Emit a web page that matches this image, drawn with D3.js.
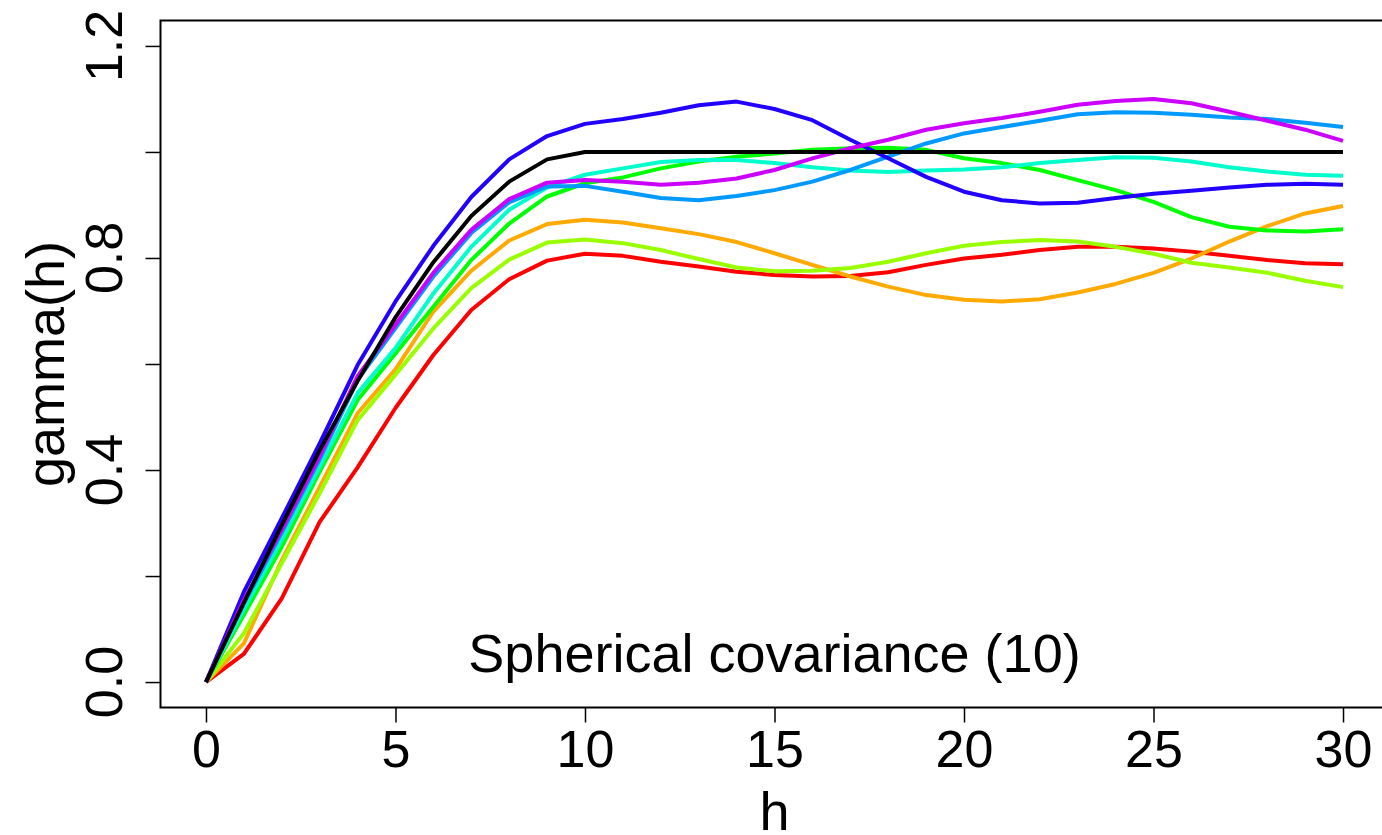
<!DOCTYPE html>
<html>
<head>
<meta charset="utf-8">
<script src="https://cdn.jsdelivr.net/npm/d3@7"></script>
<style>
  body { margin: 0; background: #fff; }
  svg text { font-family: "Liberation Sans", Arial, sans-serif; fill: #000; }
</style>
</head>
<body>
<div id="chart"></div>
<script>
// lag distances
const lags = d3.range(0, 31);

// simulated variograms
const red = [0, .053, .158, .302, .405, .517, .617, .702, .760, .795, .808, .804, .793, .784, .774, .768, .765, .766, .773, .787, .799, .806, .815, .821, .821, .818, .812, .804, .796, .790, .788];
const orange = [0, .073, .230, .368, .507, .590, .699, .776, .833, .864, .872, .867, .856, .845, .830, .809, .787, .765, .746, .730, .721, .718, .722, .735, .751, .772, .799, .831, .860, .884, .898];
const chartreuse = [0, .092, .224, .356, .494, .580, .667, .743, .797, .829, .835, .828, .815, .798, .782, .775, .776, .781, .793, .809, .823, .830, .834, .831, .821, .808, .791, .782, .772, .757, .745];
const green = [0, .127, .255, .397, .532, .620, .708, .796, .865, .916, .941, .952, .969, .982, .991, .997, 1.004, 1.007, 1.008, 1.004, .988, .979, .966, .947, .928, .906, .877, .859, .852, .850, .854];
const cyan = [0, .137, .268, .406, .545, .630, .733, .821, .891, .933, .957, .969, .981, .985, .985, .979, .971, .965, .962, .965, .967, .971, .979, .985, .990, .989, .982, .971, .963, .957, .955];
const azure = [0, .148, .282, .420, .570, .668, .765, .847, .905, .935, .936, .925, .913, .909, .917, .928, .944, .966, .991, 1.016, 1.035, 1.047, 1.059, 1.071, 1.075, 1.074, 1.070, 1.065, 1.062, 1.055, 1.047];
const blue = [0, .170, .309, .450, .598, .718, .823, .915, .986, 1.030, 1.053, 1.062, 1.074, 1.088, 1.095, 1.081, 1.060, 1.023, .988, .953, .925, .909, .903, .904, .913, .921, .927, .933, .938, .940, .938];
const purple = [0, .155, .287, .426, .577, .674, .772, .853, .911, .942, .947, .944, .938, .942, .950, .966, .988, 1.007, 1.023, 1.042, 1.054, 1.064, 1.076, 1.089, 1.096, 1.100, 1.092, 1.076, 1.059, 1.042, 1.021];
// theoretical spherical model
const model = [0, .150, .296, .437, .568, .688, .792, .879, .944, .986, 1, 1, 1, 1, 1, 1, 1, 1, 1, 1, 1, 1, 1, 1, 1, 1, 1, 1, 1, 1, 1];

const series = [
    { values: red, color: "#FF0000" },
    { values: orange, color: "#FFAA00" },
    { values: chartreuse, color: "#99FF00" },
    { values: green, color: "#00FF00" },
    { values: cyan, color: "#00FFCC" },
    { values: azure, color: "#0099FF" },
    { values: blue, color: "#2200FF" },
    { values: purple, color: "#CC00FF" },
    { values: model, color: "#000000" }
];

const xTicks = [0, 5, 10, 15, 20, 25, 30];
const yTicks = [0, 0.2, 0.4, 0.6, 0.8, 1.0, 1.2];
const yLabelTicks = [0, 0.4, 0.8, 1.2];

const width = 1382, height = 835;
const box = { left: 160.5, top: 20.5, right: 1388.5, bottom: 707.5 };

const svg = d3.select("#chart").append("svg")
    .attr("width", width)
    .attr("height", height);

// R-style 4% padding on both axes
const x = d3.scaleLinear().domain([-1.2, 31.2]).range([box.left, box.right]);
const y = d3.scaleLinear().domain([-0.048, 1.248]).range([box.bottom, box.top]);

// lines
const line = d3.line()
    .x((d, i) => x(lags[i]))
    .y(d => y(d));

svg.append("g")
    .selectAll("path")
    .data(series)
    .join("path")
    .attr("d", d => line(d.values))
    .attr("fill", "none")
    .attr("stroke", d => d.color)
    .attr("stroke-width", 4)
    .attr("stroke-linejoin", "round");

// plot frame
svg.append("rect")
    .attr("x", box.left)
    .attr("y", box.top)
    .attr("width", box.right - box.left)
    .attr("height", box.bottom - box.top)
    .attr("fill", "none")
    .attr("stroke", "#000")
    .attr("stroke-width", 2);

// x axis
const xAxis = svg.append("g")
    .attr("transform", `translate(0,${box.bottom})`)
    .call(d3.axisBottom(x).tickValues(xTicks).tickSize(15).tickPadding(8).tickFormat(d3.format("d")));
xAxis.select(".domain").remove();
xAxis.selectAll("line").attr("stroke-width", 1.5);
xAxis.selectAll("text")
    .attr("font-size", 52)
    .attr("font-family", "'Liberation Sans', Arial, sans-serif")
    .attr("dy", "0.71em");

// y axis
const yAxis = svg.append("g")
    .attr("transform", `translate(${box.left},0)`)
    .call(d3.axisLeft(y).tickValues(yTicks).tickSize(15).tickFormat(""));
yAxis.select(".domain").remove();
yAxis.selectAll("line").attr("stroke-width", 1.5);

svg.append("g")
    .selectAll("text")
    .data(yLabelTicks)
    .join("text")
    .attr("transform", d => `translate(122,${y(d)}) rotate(-90)`)
    .attr("text-anchor", "middle")
    .attr("font-size", 52)
    .text(d3.format(".1f"));

// axis titles
svg.append("text")
    .attr("x", x(15))
    .attr("y", 830)
    .attr("text-anchor", "middle")
    .attr("font-size", 54)
    .text("h");

svg.append("text")
    .attr("transform", `translate(64,${(y(0) + y(1.2)) / 2}) rotate(-90)`)
    .attr("text-anchor", "middle")
    .attr("font-size", 54)
    .text("gamma(h)");

// annotation
svg.append("text")
    .attr("x", x(15))
    .attr("y", 672)
    .attr("text-anchor", "middle")
    .attr("font-size", 54)
    .text("Spherical covariance (10)");
</script>
</body>
</html>
